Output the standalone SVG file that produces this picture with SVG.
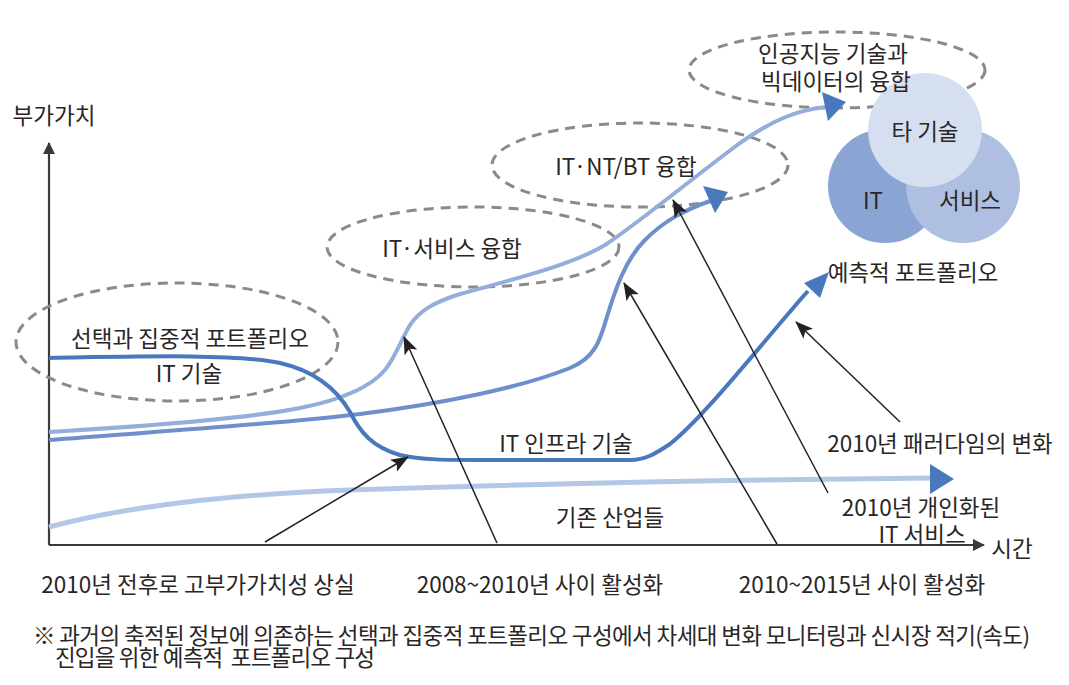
<svg xmlns="http://www.w3.org/2000/svg" width="1069" height="685" viewBox="0 0 1069 685">
<style>
  text { font-family: "Noto Sans CJK KR", "Noto Sans", sans-serif; fill: #2a2626; font-size: 22.5px; }
  .c { text-anchor: middle; dominant-baseline: central; }
  .dash { fill: none; stroke: #8a8a8a; stroke-width: 3; stroke-dasharray: 10 7; }
  .ann { fill: none; stroke: #222; stroke-width: 1.5; marker-end: url(#ah); }
  .axis { fill: none; stroke: #3a3a3a; stroke-width: 2.2; marker-end: url(#ax); }
  .head { fill: #4a78bd; }
  .pre { white-space: pre; }
</style>
<defs>
  <marker id="ah" markerUnits="userSpaceOnUse" markerWidth="18" markerHeight="14" viewBox="0 0 18 14" refX="17" refY="7" orient="auto">
    <path d="M0,0 L18,7 L0,14 L4,7 z" fill="#222"/>
  </marker>
  <marker id="ax" markerUnits="userSpaceOnUse" markerWidth="12" markerHeight="12" viewBox="0 0 12 12" refX="11" refY="6" orient="auto">
    <path d="M0,0 L12,6 L0,12 z" fill="#3a3a3a"/>
  </marker>
</defs>
<rect width="1069" height="685" fill="#ffffff"/>

<!-- axes -->
<g id="axes">
  <path class="axis" d="M49,545 L49,143"/>
  <path class="axis" d="M49,545 L984,545"/>
</g>

<!-- dashed ellipses -->
<g id="ellipse-portfolio"><ellipse class="dash" cx="177" cy="342" rx="161" ry="59"/></g>
<g id="ellipse-it-service"><ellipse class="dash" cx="473" cy="247" rx="146" ry="40"/></g>
<g id="ellipse-it-nt-bt"><ellipse class="dash" cx="640" cy="165" rx="148" ry="42"/></g>
<g id="ellipse-ai"><ellipse class="dash" cx="837" cy="70" rx="148" ry="38"/></g>

<!-- venn -->
<g id="venn-it"><circle cx="885" cy="186" r="57" fill="#8aa5d4"/></g>
<g id="venn-service"><circle cx="963" cy="186" r="57" fill="#aebfe2"/></g>
<g id="venn-other"><circle cx="925" cy="130" r="57" fill="#d6dff0"/></g>

<!-- curves -->
<g id="connectors">
  <path d="M49,527 C120,508 220,495 350,490 C500,485 700,480 932,478" fill="none" stroke="#b5c7e6" stroke-width="5"/>
  <polygon class="head" points="930,464 954,479 930,494"/>

  <path d="M49,440 C150,432 280,424 360,414 C440,404 520,388 570,368 C595,358 600,340 606,320 C615,290 625,260 645,240 C665,220 685,210 710,201" fill="none" stroke="#6d90cc" stroke-width="4"/>
  <polygon class="head" points="703,186 728,192 715,213"/>

  <path d="M49,432 C150,426 250,418 300,408 C340,400 370,388 385,370 C395,358 400,342 410,325 C420,310 435,302 460,294 C510,280 570,266 605,245 C640,222 690,180 740,143 C770,122 795,110 826,107" fill="none" stroke="#94addb" stroke-width="4"/>
  <polygon class="head" points="822,92 846,102 828,121"/>

  <path d="M49,358 C150,356 240,354 280,363 C320,372 340,395 350,412 C360,432 372,447 400,455 C420,460 450,460 480,460 L630,460 C645,460 655,454 670,444 C700,420 740,370 800,300 L808,291" fill="none" stroke="#4a78bd" stroke-width="4"/>
  <polygon class="head" points="804,283 829,272 820,298"/>

  <path class="ann" d="M265,542 L408,457"/>
  <path class="ann" d="M497,543 L404,337"/>
  <path class="ann" d="M777,544 L624,283"/>
  <path class="ann" d="M828,493 L673,200"/>
  <path class="ann" d="M900,422 L796,322"/>
</g>

<!-- labels -->
<g id="label-y"><text class="c" x="54" y="114" font-size="18">부가가치</text></g>
<g id="label-x"><text class="c" x="1012" y="547" font-size="20">시간</text></g>
<g id="label-portfolio"><text class="c" x="190" y="337" font-size="23">선택과 집중적 포트폴리오</text></g>
<g id="label-it-tech"><text class="c" x="189" y="372" font-size="23">IT 기술</text></g>
<g id="label-it-service"><text class="c" x="452" y="247">IT·서비스 융합</text></g>
<g id="label-it-nt-bt"><text class="c" x="626" y="165">IT·NT/BT 융합</text></g>
<g id="label-ai">
  <text class="c" x="833" y="52" font-size="23">인공지능 기술과</text>
  <text class="c" x="836" y="80" font-size="23">빅데이터의 융합</text>
</g>
<g id="label-venn">
  <text class="c" x="925" y="130" font-size="21">타 기술</text>
  <text class="c" x="873" y="199" font-size="21">IT</text>
  <text class="c" x="970" y="199" font-size="22">서비스</text>
</g>
<g id="label-predictive"><text class="c" x="913" y="271" font-size="19">예측적 포트폴리오</text></g>
<g id="label-infra"><text class="c" x="566" y="442">IT 인프라 기술</text></g>
<g id="label-existing"><text class="c" x="610" y="516" font-size="22">기존 산업들</text></g>
<g id="label-paradigm"><text class="c" x="940" y="442">2010년 패러다임의 변화</text></g>
<g id="label-personal">
  <text class="c" x="921" y="506" font-size="22">2010년 개인화된</text>
  <text class="c" x="922" y="533" font-size="22">IT 서비스</text>
</g>
<g id="label-bottom">
  <text class="c" x="198" y="583">2010년 전후로 고부가가치성 상실</text>
  <text class="c" x="540" y="583">2008~2010년 사이 활성화</text>
  <text class="c" x="862" y="583">2010~2015년 사이 활성화</text>
</g>
<g id="footnote">
  <text x="33" y="634" font-size="18.5" dominant-baseline="central" textLength="997" lengthAdjust="spacing">※ 과거의 축적된 정보에 의존하는 선택과 집중적 포트폴리오 구성에서 차세대 변화 모니터링과 신시장 적기(속도)</text>
  <text class="pre" x="55" y="656" font-size="18.5" dominant-baseline="central" textLength="320" lengthAdjust="spacing">진입을 위한 예측적  포트폴리오 구성</text>
</g>
</svg>
